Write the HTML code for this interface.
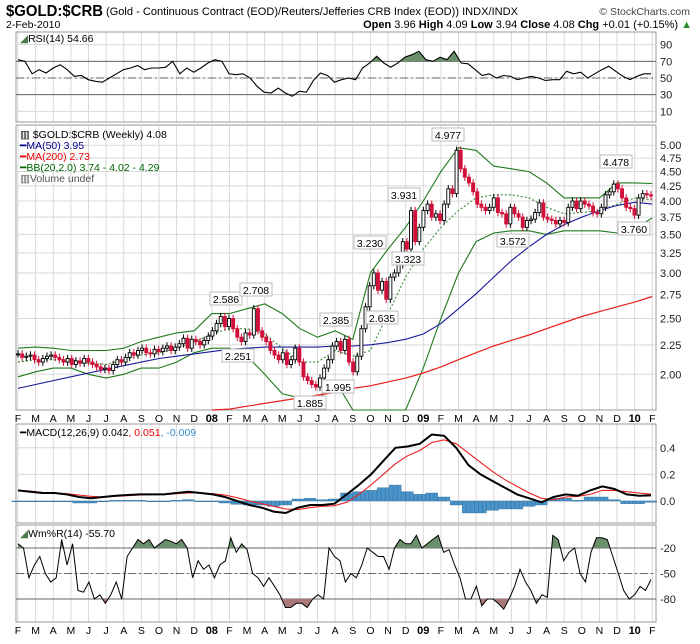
<!DOCTYPE html>
<html><head><meta charset="utf-8"><style>
body{margin:0;background:#fff;font-family:"Liberation Sans",sans-serif}
svg text{font-family:"Liberation Sans",sans-serif}
</style></head><body>
<svg id="c" width="700" height="639" viewBox="0 0 700 639" xmlns="http://www.w3.org/2000/svg">
<rect width="700" height="639" fill="#fff"/>
<g id="grid"></g>
<g id="marks"></g>
<text x="6" y="16" font-size="16" font-weight="bold" textLength="97" lengthAdjust="spacingAndGlyphs">$GOLD:$CRB</text>
<text x="106" y="15" font-size="11" textLength="412" lengthAdjust="spacingAndGlyphs">(Gold - Continuous Contract (EOD)/Reuters/Jefferies CRB Index (EOD))  INDX/INDX</text>
<text x="690" y="15" font-size="10.5" text-anchor="end" fill="#444">© StockCharts.com</text>
<text x="6" y="28" font-size="10.5">2-Feb-2010</text>
<text x="692" y="28" font-size="11" text-anchor="end"><tspan font-weight="bold">Open</tspan> 3.96 <tspan font-weight="bold">High</tspan> 4.09 <tspan font-weight="bold">Low</tspan> 3.94 <tspan font-weight="bold">Close</tspan> 4.08 <tspan font-weight="bold">Chg</tspan> +0.01 (+0.15%) <tspan fill="#2a8a2a">▲</tspan></text>
<text x="20" y="42" font-size="10.5"><tspan fill="#4a7a4a">◢</tspan>RSI(14) 54.66</text>
<g font-size="10.5">
<text x="20" y="138">▥ $GOLD:$CRB (Weekly) 4.08</text>
<text x="20" y="149" fill="#00008b"><tspan>━</tspan>MA(50) 3.95</text>
<text x="20" y="160" fill="#e00"><tspan>━</tspan>MA(200) 2.73</text>
<text x="20" y="171" fill="#006400"><tspan>━</tspan>BB(20,2.0) 3.74 - 4.02 - 4.29</text>
<text x="20" y="182" fill="#555">▥Volume undef</text>
</g>
<text x="20" y="436" font-size="10.5"><tspan>━</tspan>MACD(12,26,9) 0.042<tspan fill="#e00">, 0.051</tspan><tspan fill="#3a8fd0">, -0.009</tspan></text>
<text x="20" y="537" font-size="10.5"><tspan fill="#4a7a4a">◢</tspan>Wm%R(14) -55.70</text>
</svg>
<script>
const closes=[2.17,2.14,2.15,2.16, 2.12,2.10,2.13,2.15, 2.16,2.14,2.12,2.10,2.13, 2.08,2.11,2.09,2.13, 2.10,2.08,2.06,2.04, 2.05,2.03,2.08,2.12,2.10, 2.14,2.18,2.16,2.20, 2.22,2.18,2.17,2.21, 2.19,2.22,2.24,2.20,2.23, 2.26,2.31,2.22,2.30, 2.28,2.25,2.29,2.33,
2.38,2.45,2.52,2.42,2.50, 2.40,2.32,2.28,2.36, 2.34,2.60,2.38,2.32, 2.28,2.20,2.16,2.12,2.18, 2.08,2.12,2.22,2.10, 1.98,1.95,1.92,1.90, 1.97,2.05,2.12, 2.24,2.28,2.20,2.30, 2.10,2.02,2.15,2.40, 2.62,2.85,3.00,2.80,2.90, 2.70,2.95,3.00,3.10, 3.40,3.30,3.85,3.40,3.60,
3.85,3.95,3.75,3.80, 3.70,3.95,4.20,4.12, 4.90,4.55,4.40,4.30, 4.15,3.95,3.90,3.85, 3.90,4.05,3.82,3.80,3.65, 3.90,3.80,3.75,3.60, 3.70,3.72,3.82,3.97, 3.75,3.72,3.70,3.65, 3.70,3.67,3.90,4.00, 3.88,4.00,3.95,3.92, 3.82,3.80,3.90,4.10,4.15, 4.28,4.20,4.05,3.90,
3.88,3.78,4.05,4.12,4.10, 4.08];
const ma50=[1.89,1.92,1.95,1.98,2.01,2.04,2.07,2.10,2.13,2.15,2.17,2.19,2.21,2.22,2.23,2.23,2.23,2.23,2.24,2.24,2.25,2.27,2.30,2.35,2.45,2.60,2.76,2.95,3.15,3.33,3.50,3.64,3.75,3.85,3.93,3.98,3.95];
const ma200=[1.72,1.74,1.76,1.78,1.80,1.82,1.84,1.86,1.89,1.91,1.94,1.97,2.01,2.06,2.12,2.18,2.24,2.29,2.34,2.40,2.46,2.52,2.57,2.62,2.67,2.73];
const bbUpper=[2.22,2.23,2.22,2.20,2.20,2.20,2.22,2.28,2.32,2.36,2.38,2.55,2.55,2.60,2.65,2.55,2.40,2.32,2.38,2.30,3.00,3.30,3.60,4.00,4.50,4.95,4.90,4.60,4.55,4.50,4.30,4.05,4.05,4.05,4.30,4.30,4.29];
const bbMid=[2.10,2.12,2.12,2.12,2.09,2.08,2.12,2.16,2.18,2.22,2.27,2.35,2.40,2.40,2.35,2.22,2.10,2.10,2.20,2.15,2.20,2.55,2.95,3.30,3.60,3.85,4.05,4.10,4.10,4.05,3.90,3.80,3.82,3.85,3.95,4.05,4.02];
const bbLower=[1.98,2.02,2.05,2.05,2.00,1.97,2.00,2.05,2.05,2.10,2.18,2.22,2.22,2.15,2.00,1.85,1.82,1.80,1.95,1.70,1.40,1.50,1.65,2.05,2.50,3.00,3.40,3.52,3.55,3.55,3.50,3.55,3.55,3.55,3.52,3.58,3.74];
const rsi=[72,70,55,60,56,62,66,60,52,53,48,46,45,50,55,60,62,65,60,62,62,63,70,55,62,57,62,68,72,70,55,54,55,50,40,33,32,38,32,28,34,33,47,56,53,45,48,50,48,62,68,76,68,63,68,75,78,82,72,70,75,72,82,68,67,60,53,55,50,53,52,48,50,52,50,47,48,48,58,55,57,50,55,60,64,58,52,48,52,55,55];
const wmr=[-15,-20,-55,-40,-30,-50,-60,-55,-10,-40,-15,-70,-72,-60,-80,-75,-85,-75,-60,-80,-30,-20,-10,-15,-10,-20,-15,-10,-12,-15,-10,-20,-55,-35,-45,-40,-55,-40,-35,-8,-25,-15,-22,-50,-55,-65,-55,-65,-75,-90,-90,-85,-85,-90,-80,-75,-80,-20,-30,-35,-60,-50,-55,-40,-20,-25,-30,-30,-45,-20,-10,-15,-15,-5,-20,-15,-10,-5,-25,-22,-40,-55,-80,-80,-65,-88,-80,-80,-85,-92,-80,-65,-45,-60,-70,-85,-75,-78,-5,-10,-35,-25,-20,-50,-60,-25,-8,-8,-10,-30,-50,-70,-80,-75,-65,-70,-57];
const macd=[0.08,0.07,0.06,0.06,0.05,0.03,0.02,0.03,0.04,0.045,0.05,0.05,0.05,0.06,0.07,0.06,0.05,0.03,0.0,-0.03,-0.05,-0.08,-0.09,-0.05,-0.03,-0.03,-0.02,0.05,0.12,0.20,0.30,0.40,0.41,0.43,0.50,0.49,0.40,0.27,0.20,0.15,0.10,0.05,0.02,-0.01,0.03,0.05,0.04,0.08,0.11,0.09,0.05,0.04,0.042];
const signal=[0.08,0.075,0.065,0.06,0.055,0.045,0.035,0.03,0.035,0.04,0.045,0.05,0.05,0.055,0.06,0.06,0.055,0.045,0.025,0.0,-0.02,-0.04,-0.06,-0.065,-0.05,-0.04,-0.035,-0.01,0.05,0.12,0.20,0.28,0.34,0.38,0.44,0.46,0.43,0.36,0.29,0.22,0.16,0.11,0.06,0.02,0.01,0.03,0.035,0.05,0.08,0.08,0.07,0.06,0.051];
const monthLabels=["F","M","A","M","J","J","A","S","O","N","D","08","F","M","A","M","J","J","A","S","O","N","D","09","F","M","A","M","J","J","A","S","O","N","D","10","F"];
const priceTicks=[5.00,4.75,4.50,4.25,4.00,3.75,3.50,3.25,3.00,2.75,2.50,2.25,2.00];
const rsiTicks=[90,70,50,30,10];
const macdTicks=[0.4,0.2,0.0];
const wmrTicks=[-20,-50,-80];
const peaks=[["2.586",226,299],["2.708",256,290],["2.251",238,356],["2.385",336,320],["1.885",310,403],["1.995",338,387],["3.230",370,243],["2.635",382,318],["3.931",404,195],["3.323",408,259],["4.977",448,135],["3.572",513,241],["4.478",616,162],["3.760",634,229]];

const L=16,R=656,X0=18,X1=651;
const P={rsi:[32,122],main:[125,410],macd:[424,523],wmr:[525,622]};
const ns="http://www.w3.org/2000/svg";
const grid=document.getElementById('grid'),marks=document.getElementById('marks');
function el(t,a,p){const e=document.createElementNS(ns,t);for(const k in a)e.setAttribute(k,a[k]);(p||marks).appendChild(e);return e;}
const xMonth=i=>18+i*17.62;
const xIdx=(i,n)=>X0+(X1-X0)*i/(n-1);
const yP=p=>201-250*Math.log(p/4);
const yR=v=>78-(v-50)*0.8333;
const yM=v=>501-v*133;
const yW=v=>531+(-v)*0.85;
function clip(y,k){return Math.max(P[k][0],Math.min(P[k][1],y));}

for(const k in P){
  const [t,b]=P[k];
  for(let i=0;i<monthLabels.length;i++){const x=xMonth(i);if(x<R)el('line',{x1:x,x2:x,y1:t,y2:b,stroke:'#d8d8d8','stroke-width':1},grid);}
  el('rect',{x:L,y:t,width:R-L,height:b-t,fill:'none',stroke:'#999'},grid);
}
function hgrid(ticks,f,k,fmt){ticks.forEach(v=>{const y=f(v);el('line',{x1:L,x2:R,y1:y,y2:y,stroke:'#d8d8d8'},grid);const tx=el('text',{x:R+4,y:y+4,'font-size':11,fill:'#222'},grid);tx.textContent=fmt(v);});}
hgrid(rsiTicks,yR,'rsi',v=>v);
hgrid(priceTicks,yP,'main',v=>v.toFixed(2));
hgrid(macdTicks,yM,'macd',v=>v.toFixed(1));
hgrid(wmrTicks,yW,'wmr',v=>v);
[[yR(70),'#666',''],[yR(30),'#666',''],[yR(50),'#666','8,3,2,3'],[yW(-20),'#666',''],[yW(-80),'#666',''],[yW(-50),'#666','8,3,2,3']].forEach(a=>el('line',{x1:L,x2:R,y1:a[0],y2:a[0],stroke:a[1],'stroke-dasharray':a[2]},grid));
[422,634].forEach(y=>monthLabels.forEach((m,i)=>{const x=xMonth(i);const t=el('text',{x:x,y:y,'font-size':/\d/.test(m)?11:10.5,'font-weight':/\d/.test(m)?'bold':'normal','text-anchor':'middle'},grid);t.textContent=m;}));

function poly(arr,xf,yf,attrs,k){const pts=arr.map((v,i)=>xf(i,arr.length).toFixed(1)+','+clip(yf(v),k).toFixed(1)).join(' ');return el('polyline',Object.assign({points:pts,fill:'none'},attrs));}
function fillBand(arr,yf,lvl,above,color){
  const n=arr.length;let d='';
  for(let i=0;i<n-1;i++){
    const v0=arr[i],v1=arr[i+1];const x0=xIdx(i,n),x1=xIdx(i+1,n);
    const a0=above?v0-lvl:lvl-v0,a1=above?v1-lvl:lvl-v1;
    if(a0<=0&&a1<=0)continue;
    let sx=x0,ex=x1,sv=v0,ev=v1;
    if(a0<0){sx=x0+(x1-x0)*(-a0)/(a1-a0);sv=lvl;}
    if(a1<0){ex=x0+(x1-x0)*a0/(a0-a1);ev=lvl;}
    d+=`M${sx},${yf(lvl)}L${sx},${yf(sv)}L${ex},${yf(ev)}L${ex},${yf(lvl)}Z`;
  }
  return el('path',{d:d,fill:color});
}

let f=fillBand(rsi,yR,70,true,'#6b8f6b');


let ln=poly(rsi,xIdx,yR,{stroke:'#000','stroke-width':1.1},'rsi');



const xM=(i)=>xMonth(i);
ln=poly(bbUpper,xM,yP,{stroke:'#1e7a1e','stroke-width':1.1},'main');


ln=poly(bbLower,xM,yP,{stroke:'#1e7a1e','stroke-width':1.1},'main');


ln=poly(bbMid,xM,yP,{stroke:'#3a8a3a','stroke-width':1.1,'stroke-dasharray':'2,2'},'main');


ln=poly(ma50,xM,yP,{stroke:'#1a1a9a','stroke-width':1.1},'main');


ln=poly(ma200,i=>xMonth(i+11),yP,{stroke:'#e8201e','stroke-width':1.2},'main');



closes.forEach((c,i)=>{
  const o=i>0?closes[i-1]:c;const x=xIdx(i,closes.length);
  const up=c>=o;const hi=Math.max(o,c)*1.015,lo=Math.min(o,c)*0.985;
  const col=up?'#000':'#d0103a';
  const w=el('line',{x1:x,x2:x,y1:yP(hi),y2:yP(lo),stroke:col});
  
  
  const yt=yP(Math.max(o,c)),yb=yP(Math.min(o,c));
  const r=el('rect',{x:x-1.5,y:yt,width:3,height:Math.max(1,yb-yt),fill:up?'#fff':col,stroke:col,'stroke-width':0.9});
  
  
});
peaks.forEach(p=>{
  const g=el('g',{});
  
  
  el('rect',{x:p[1]-16,y:p[2]-7,width:32,height:13,fill:'#fff',stroke:'#bbb'},g);
  const t=el('text',{x:p[1],y:p[2]+4,'font-size':10.5,'text-anchor':'middle'},g);t.textContent=p[0];
});

macd.forEach((v,i)=>{
  const h=v-signal[i];const x=xIdx(i,macd.length);const bw=(X1-X0)/(macd.length-1);
  for(let s=0;s<3;s++){
    const b=el('rect',{x:x-bw/2+s*bw/3,y:Math.min(yM(0),yM(h)),width:bw/3-0.3,height:Math.max(0.8,Math.abs(yM(h)-yM(0))),fill:'#4a94cc',stroke:'#2a6a9a','stroke-width':0.4});
    
    
  }
});
ln=poly(signal,xIdx,yM,{stroke:'#e8201e','stroke-width':1.1},'macd');


ln=poly(macd,xIdx,yM,{stroke:'#000','stroke-width':2},'macd');



f=fillBand(wmr,yW,-20,true,'#6b8f6b');


f=fillBand(wmr,yW,-80,false,'#a87878');


ln=poly(wmr,xIdx,yW,{stroke:'#000','stroke-width':1},'wmr');


</script>
</body></html>
